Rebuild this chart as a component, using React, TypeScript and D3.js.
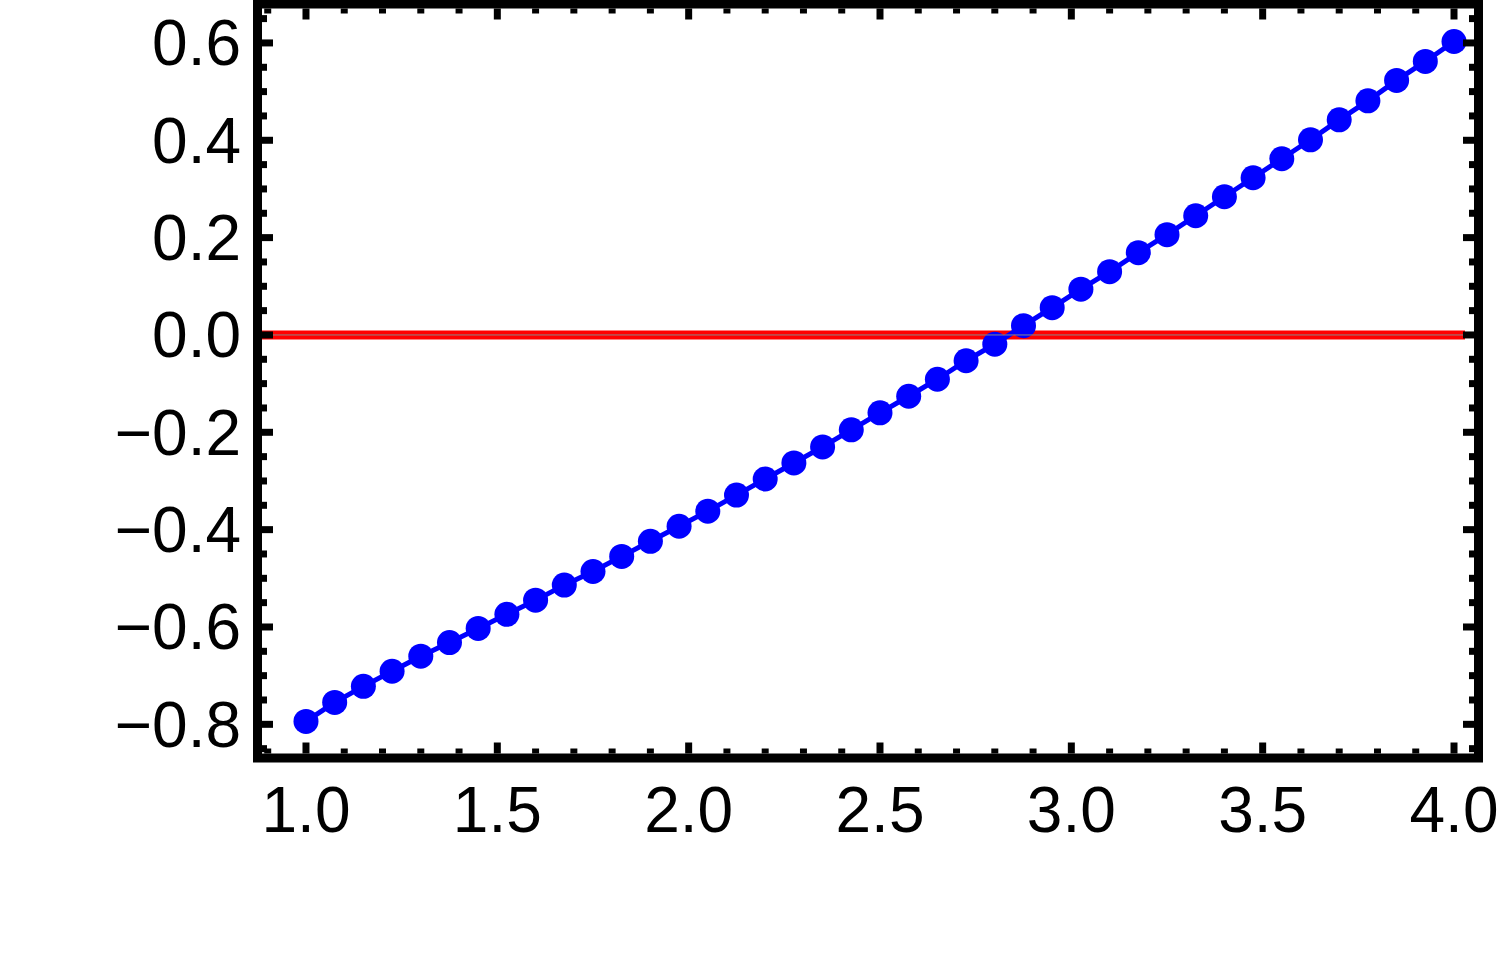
import React from "react";
import * as d3 from "d3";

const xValues: number[] = d3.range(41).map((i) => +(1 + i * 0.075).toFixed(3));
const yValues: number[] = [
  -0.794, -0.755, -0.722, -0.691, -0.66, -0.632, -0.603, -0.574, -0.545, -0.514,
  -0.486, -0.455, -0.424, -0.393, -0.362, -0.329, -0.296, -0.263, -0.23, -0.195,
  -0.16, -0.126, -0.091, -0.053, -0.019, 0.019, 0.056, 0.094, 0.13, 0.169,
  0.206, 0.245, 0.284, 0.323, 0.362, 0.401, 0.442, 0.481, 0.523, 0.562, 0.603,
];
const xTickLabels: number[] = [1.0, 1.5, 2.0, 2.5, 3.0, 3.5, 4.0];
const yTickLabels: number[] = [-0.8, -0.6, -0.4, -0.2, 0.0, 0.2, 0.4, 0.6];
const refLine: number = 0;

const W = 1500;
const H = 955;
const L = 257.5, R = 1478.5, T = 4, B = 758;

export default function App() {
  const x = d3.scaleLinear().domain([0.8733, 4.064]).range([L, R]);
  const y = d3.scaleLinear().domain([-0.8692, 0.68]).range([B, T]);
  const points = xValues.map((xv, i) => [xv, yValues[i]] as [number, number]);
  const line = d3.line<[number, number]>().x((d) => x(d[0])).y((d) => y(d[1]));

  const xMinor = d3.range(9, 41).map((v) => v / 10);
  const yMinor = d3.range(-17, 14).map((v) => v / 20);
  const isMajorX = (v: number) => Math.abs(v * 2 - Math.round(v * 2)) < 1e-6;
  const isMajorY = (v: number) => Math.abs(v * 5 - Math.round(v * 5)) < 1e-6;
  const fmt = (v: number) => (v < 0 ? "\u2212" : "") + Math.abs(v).toFixed(1);
  const inner = 4.5;
  const tickW = 7;

  return (
    <svg
      width={W}
      height={H}
      style={{ position: "absolute", left: 0, top: 0, background: "#fff" }}
      fontFamily="'Liberation Sans', Arial, sans-serif"
    >
      <rect x={0} y={0} width={W} height={H} fill="#fff" />
      {/* reference line */}
      <line x1={L + inner} x2={1465} y1={y(refLine)} y2={y(refLine)} stroke="#ff0000" strokeWidth={9} />
      {/* series */}
      <path d={line(points) || ""} fill="none" stroke="#0000ff" strokeWidth={5} />
      {points.map((p, i) => (
        <circle key={i} cx={x(p[0])} cy={y(p[1])} r={12.5} fill="#0000ff" />
      ))}
      {/* axis line at zero */}
      <line x1={L + inner} x2={R - inner} y1={y(0)} y2={y(0)} stroke="#888" strokeWidth={1} />
      {/* ticks */}
      {xMinor.map((v, i) => {
        const len = isMajorX(v) ? 11 : 5;
        const xx = x(v);
        return (
          <g key={"xt" + i}>
            <line x1={xx} x2={xx} y1={B - inner} y2={B - inner - len} stroke="#000" strokeWidth={tickW} />
            <line x1={xx} x2={xx} y1={T + inner} y2={T + inner + len} stroke="#000" strokeWidth={tickW} />
          </g>
        );
      })}
      {yMinor.map((v, i) => {
        const len = isMajorY(v) ? 11 : 5;
        const yy = y(v);
        return (
          <g key={"yt" + i}>
            <line x1={L + inner} x2={L + inner + len} y1={yy} y2={yy} stroke="#000" strokeWidth={tickW} />
            <line x1={R - inner} x2={R - inner - len} y1={yy} y2={yy} stroke="#000" strokeWidth={tickW} />
          </g>
        );
      })}
      {/* frame */}
      <rect x={L} y={T} width={R - L} height={B - T} fill="none" stroke="#000" strokeWidth={9} />
      {/* labels */}
      {xTickLabels.map((v, i) => (
        <text key={"xl" + i} x={x(v)} y={832} textAnchor="middle" fontSize={64} fill="#000">
          {v.toFixed(1)}
        </text>
      ))}
      {yTickLabels.map((v, i) => (
        <text key={"yl" + i} x={241} y={y(v)} dy="0.35em" textAnchor="end" fontSize={64} fill="#000">
          {fmt(v)}
        </text>
      ))}
    </svg>
  );
}
